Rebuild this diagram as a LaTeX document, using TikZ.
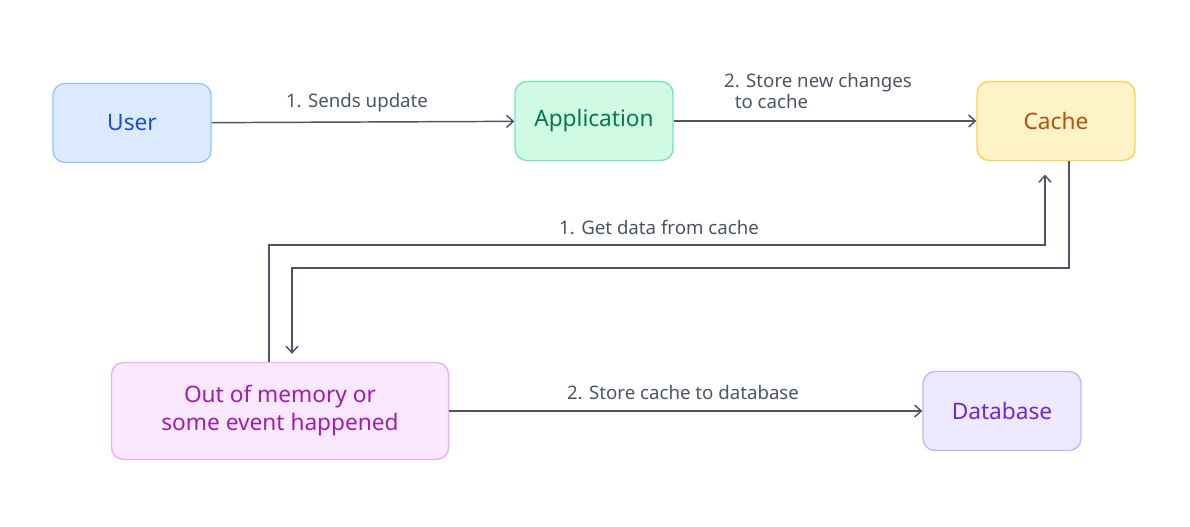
\documentclass[tikz,border=0pt]{standalone}
\usepackage{fontspec}
\setmainfont{Noto Sans}
\usetikzlibrary{arrows.meta}
\definecolor{ln}{HTML}{4B5563}
\definecolor{uf}{HTML}{DBEAFE}\definecolor{ud}{HTML}{93C5FD}\definecolor{ut}{HTML}{1D4ED8}
\definecolor{af}{HTML}{D1FAE5}\definecolor{ad}{HTML}{6EE7B7}\definecolor{at}{HTML}{047857}
\definecolor{cf}{HTML}{FEF3C7}\definecolor{cd}{HTML}{FCD34D}\definecolor{ct}{HTML}{B45309}
\definecolor{of}{HTML}{FAE8FF}\definecolor{od}{HTML}{F0ABFC}\definecolor{ot}{HTML}{A21CAF}
\definecolor{df}{HTML}{EDE9FE}\definecolor{dd}{HTML}{C4B5FD}\definecolor{dt}{HTML}{6D28D9}
\begin{document}
\begin{tikzpicture}[x=0.75pt,y=-0.75pt,
 box/.style={draw,rounded corners=9pt,line width=1pt,minimum width=118.5pt,minimum height=59.25pt,font=\fontsize{17}{21}\selectfont,align=center},
 arr/.style={draw=ln,line width=1.1pt,-{Straight Barb[length=5pt,width=9pt]}},
 lab/.style={text=ln,font=\fontsize{14}{16}\selectfont,align=left}]
\useasboundingbox (0,0) rectangle (1190,526);
\node[box,fill=uf,draw=ud,text=ut] (user) at (132,123) {User};
\node[box,fill=af,draw=ad,text=at] (app) at (594,121) {Application};
\node[box,fill=cf,draw=cd,text=ct] (cache) at (1056,121) {Cache};
\node[box,fill=of,draw=od,text=ot,minimum width=252.75pt,minimum height=72.75pt] (oom) at (280,411) {Out of memory or\\some event happened};
\node[box,fill=df,draw=dd,text=dt] (db) at (1002,411) {Database};
\draw[arr] (user) -- (app);
\node[lab] (l1) at (357,103) {1. Sends update};
\draw[arr] (app) -- (cache);
\node[lab] (l2) at (818,91) {2. Store new changes\\\hspace{8pt}to cache};
\coordinate (a1) at (269,245); \coordinate (a2) at (1045,245);
\draw[arr] (oom.north -| a1) -- (a1) -- (a2) -- ([yshift=-10pt]cache.south -| a2);
\node[lab] (l3) at (659,227) {1. Get data from cache};
\coordinate (b1) at (1069,268); \coordinate (b2) at (292,268);
\draw[arr] (cache.south -| b1) -- (b1) -- (b2) -- ([yshift=6pt]oom.north -| b2);
\draw[arr] (oom) -- (db);
\node[lab] (l4) at (683,393) {2. Store cache to database};
\end{tikzpicture}
\end{document}
